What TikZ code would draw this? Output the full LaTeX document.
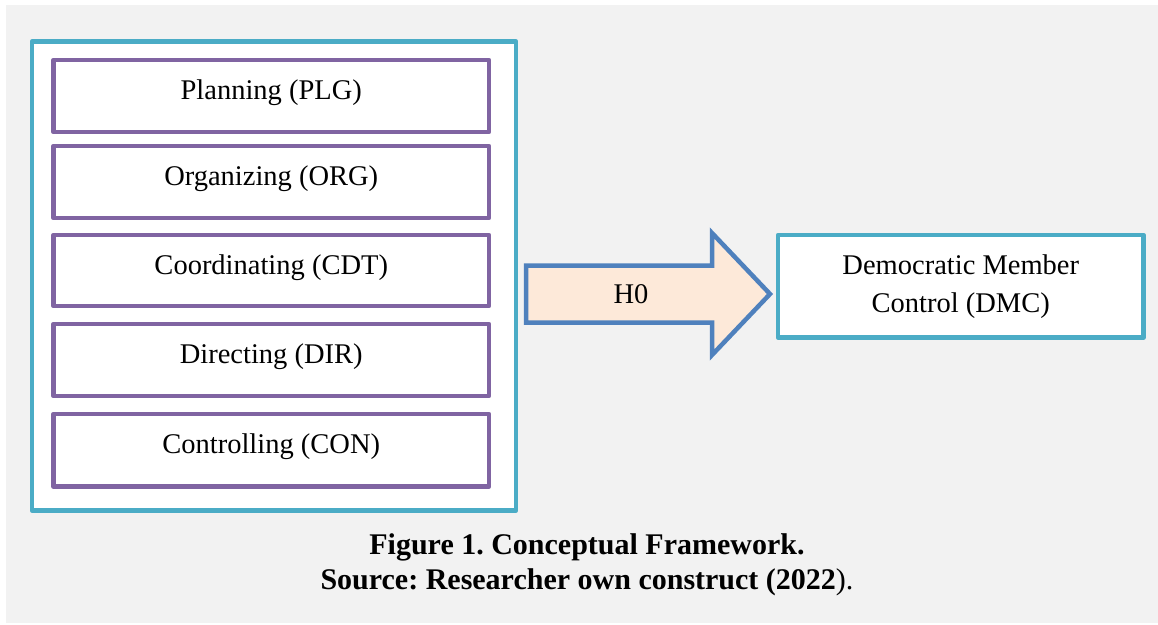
\documentclass[tikz,border=0pt]{standalone}
\usepackage{fontspec}
\setmainfont{Liberation Serif}
\frenchspacing
\definecolor{bgc}{HTML}{F2F2F2}
\definecolor{cyanc}{HTML}{4BACC6}
\definecolor{purc}{HTML}{8064A2}
\definecolor{arrc}{HTML}{4F81BD}
\definecolor{arrfill}{HTML}{FDE9D9}
\tikzset{
  outerbox/.style={draw=cyanc, line width=4.5pt, fill=white, inner sep=0pt, outer sep=0pt, rectangle, line join=round},
  pbox/.style={draw=purc, line width=4.5pt, fill=white, inner sep=0pt, outer sep=0pt, rectangle,
     minimum width=435.5pt, minimum height=72pt, text height=21pt, text depth=14pt,
     font=\fontsize{28.5pt}{34pt}\selectfont, line join=round},
  lbl/.style={inner sep=0pt, outer sep=0pt, align=center},
  capt/.style={inner sep=0pt, font=\fontsize{30pt}{35pt}\selectfont\bfseries}
}
\begin{document}
\begin{tikzpicture}[x=1pt,y=-1pt]
\useasboundingbox (0,0) rectangle (1158,624);
\fill[white] (0,0) rectangle (1158,624);
\fill[bgc] (6,5) rectangle (1158,623);
% outer frame
\node[outerbox, minimum width=484pt, minimum height=469pt] (frame) at (274,276) {};
% factor boxes
\node[pbox] (plg) at (271.25,96) {Planning (PLG)};
\node[pbox, minimum height=72pt] (org) at (271.25,182) {Organizing (ORG)};
\node[pbox, minimum height=71pt] (cdt) at (271.25,270.5) {Coordinating (CDT)};
\node[pbox] (dir) at (271.25,360) {Directing (DIR)};
\node[pbox, minimum height=72.5pt] (con) at (271.25,450.25) {Controlling (CON)};
% block arrow
\coordinate (a1) at (526,265.5);
\coordinate (a2) at (712,265.5);
\coordinate (a3) at (712,233);
\coordinate (a4) at (770,294);
\coordinate (a5) at (712,355);
\coordinate (a6) at (712,322.5);
\coordinate (a7) at (526,322.5);
\draw[draw=arrc, fill=arrfill, line width=4.5pt, line join=miter, miter limit=4]
  (a1) -- (a2) -- (a3) -- (a4) -- (a5) -- (a6) -- (a7) -- cycle;
\node[lbl, font=\fontsize{28.5pt}{34pt}\selectfont] (h0) at (631,294) {H0};
% outcome box
\node[outerbox, minimum width=365.5pt, minimum height=102.5pt, font=\fontsize{28.5pt}{38pt}\selectfont, align=center] (dmc) at (960.75,286.25) {Democratic Member\\Control (DMC)};
% caption
\node[capt] (cap1) at (587,547) {Figure 1. Conceptual Framework.};
\node[capt] (cap2) at (587,582) {Source: Researcher own construct (2022\textmd{).}};
\end{tikzpicture}
\end{document}
